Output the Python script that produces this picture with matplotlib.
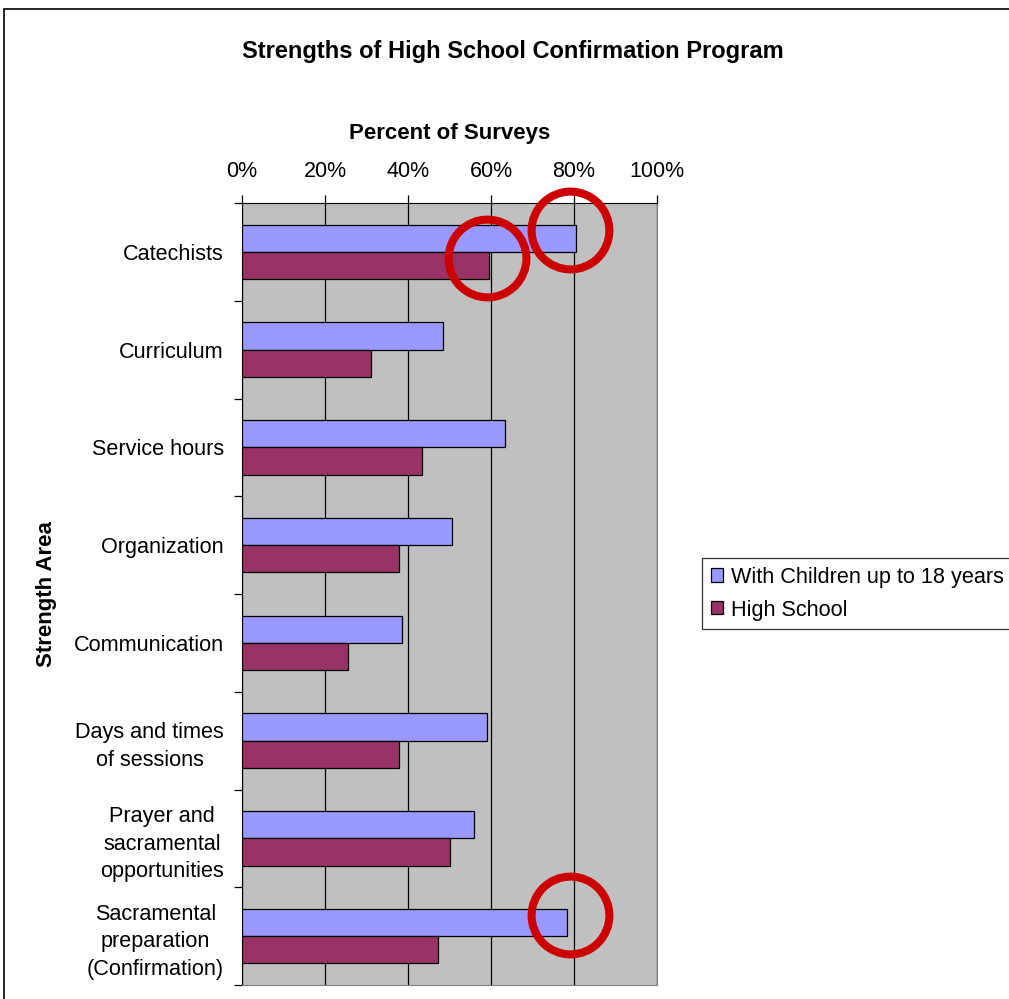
import numpy as np
import matplotlib.pyplot as plt
from matplotlib.patches import Rectangle

plt.rcParams['font.family'] = ['Liberation Sans', 'DejaVu Sans']

categories = ['Catechists', 'Curriculum', 'Service hours', 'Organization',
              'Communication', 'Days and times\nof sessions',
              'Prayer and\nsacramental\nopportunities',
              'Sacramental\npreparation\n(Confirmation)']
with_children = [80.4, 48.4, 63.4, 50.6, 38.6, 59.0, 55.9, 78.2]
high_school = [59.4, 31.1, 43.4, 37.8, 25.5, 37.8, 50.1, 47.3]
series_names = ['With Children up to 18 years', 'High School']
xticks = [0, 20, 40, 60, 80, 100]
# (category index, series index) of the circled bars
highlights = [(0, 0), (0, 1), (7, 0)]

fig = plt.figure(figsize=(10.09, 9.99), dpi=100)
ax = fig.add_axes([242 / 1009, 14 / 999, 415 / 1009, 782 / 999])

y = np.arange(len(categories))
h = 0.28
ax.barh(y - h / 2, with_children, height=h, color='#9999FF',
        edgecolor='black', linewidth=0.9, label=series_names[0], zorder=3)
ax.barh(y + h / 2, high_school, height=h, color='#993366',
        edgecolor='black', linewidth=0.9, label=series_names[1], zorder=3)

ax.set_facecolor('#C0C0C0')
ax.set_xlim(0, 100)
ax.set_ylim(len(categories) - 0.5, -0.5)
ax.set_xticks(xticks)
ax.set_xticklabels(['{}%'.format(t) for t in xticks])
ax.xaxis.tick_top()
ax.xaxis.set_label_position('top')
ax.tick_params(axis='x', direction='out', length=6, width=0.9, pad=9,
               labelsize=15.5, color='black')
ax.grid(axis='x', color='black', linewidth=0.9, zorder=1)

ax.set_yticks(y)
ax.set_yticklabels(categories, multialignment='center', linespacing=1.42)
ax.set_yticks(np.arange(len(categories) + 1) - 0.5, minor=True)
ax.tick_params(axis='y', which='major', length=0, pad=13, labelsize=15.6)
ax.tick_params(axis='y', which='minor', length=5.5, width=0.9,
               direction='out', color='black')

for side in ['right', 'bottom']:
    ax.spines[side].set_color('#808080')
for side in ['left', 'top']:
    ax.spines[side].set_color('black')

ax.set_xlabel('Percent of Surveys', fontsize=16, fontweight='bold',
              labelpad=16)
ax.set_ylabel('Strength Area', fontsize=16, fontweight='bold', labelpad=12)
fig.suptitle('Strengths of High School Confirmation Program',
             fontsize=17, fontweight='bold', x=513 / 1009, y=1 - 40 / 999)

# red circles drawn around the gridline each highlighted bar reaches
values = [with_children, high_school]
for ci, si in highlights:
    yc = ci - h / 2 if si == 0 else ci + h / 2
    xc = round(values[si][ci] / 20) * 20 - 1
    ax.plot(xc, yc - 0.08, 'o', markersize=56,
            markerfacecolor='none', markeredgecolor='#CC0000',
            markeredgewidth=5.8, clip_on=False, zorder=5)

leg = fig.legend(loc='upper left', bbox_to_anchor=(702 / 1009, 1 - 558 / 999),
                 fontsize=15.6, frameon=True, fancybox=False, shadow=False,
                 handlelength=0.55, handleheight=0.55, handletextpad=0.4,
                 labelspacing=0.55, borderpad=0.4, borderaxespad=0)
leg.get_frame().set_edgecolor('black')
leg.get_frame().set_linewidth(0.9)

# outer chart border
fig.add_artist(Rectangle((4 / 1009, -0.1), 1.2, 1.1 - 9 / 999,
                         transform=fig.transFigure, fill=False,
                         edgecolor='black', linewidth=1.2))

fig.savefig('out.png', dpi=100)
